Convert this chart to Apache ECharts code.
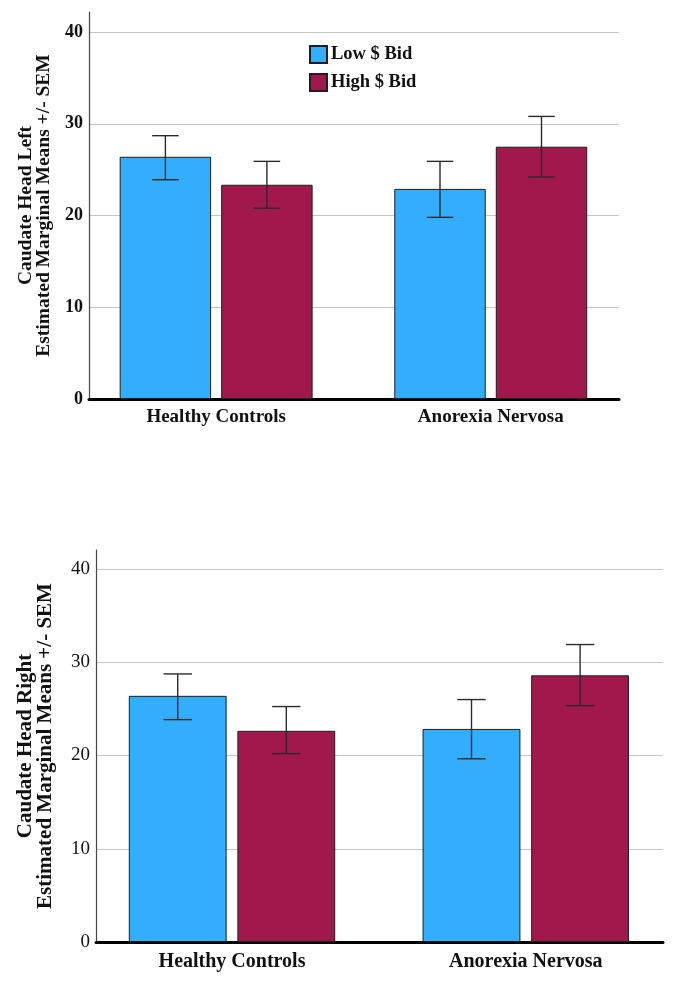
<!DOCTYPE html>
<html>
<head>
<meta charset="utf-8">
<script src="https://cdn.jsdelivr.net/npm/echarts@6/dist/echarts.min.js"></script>
<style>
html,body{margin:0;padding:0;background:#fff;}
#chart{width:683px;height:983px;}
</style>
</head>
<body>
<div id="chart"></div>
<script>
// ---- data ----
const categories = ['Healthy Controls', 'Anorexia Nervosa'];
const seriesNames = ['Low $ Bid', 'High $ Bid'];
const yTicks = [0, 10, 20, 30, 40];

// Caudate Head Left
const leftLow = [26.4, 22.9];
const leftHigh = [23.35, 27.5];
const leftLowErr = [[23.9, 28.7], [19.8, 25.9]];
const leftHighErr = [[20.8, 25.9], [24.2, 30.8]];

// Caudate Head Right
const rightLow = [26.4, 22.85];
const rightHigh = [22.65, 28.6];
const rightLowErr = [[23.85, 28.75], [19.65, 26.0]];
const rightHighErr = [[20.2, 25.25], [25.35, 31.9]];

const axisTitles = [
  'Caudate Head Left\nEstimated Marginal Means +/- SEM',
  'Caudate Head Right\nEstimated Marginal Means +/- SEM'
];

// ---- style ----
const FONT = '"Liberation Serif", "DejaVu Serif", serif';
const BLUE = '#33adfd';
const MAROON = '#a0184c';
const BAR_FRAC = 0.333;   // bar width as fraction of category spacing
const GAP_FRAC = 0.11;    // gap as fraction of bar width
const CAP_FRAC = 0.145;   // half cap width as fraction of bar width

const chart = echarts.init(document.getElementById('chart'), null, {renderer: 'canvas'});

function barData(vals) {
  return vals.map((v, i) => [i, v]);
}
function errData(lowErr, highErr) {
  const out = [];
  lowErr.forEach((e, i) => out.push([i, e[0], e[1], -1]));
  highErr.forEach((e, i) => out.push([i, e[0], e[1], 1]));
  return out;
}

function renderErr(params, api) {
  const x = api.value(0);
  const lo = api.value(1);
  const hi = api.value(2);
  const side = api.value(3);
  const band = api.size([1, 0])[0];
  const barW = band * BAR_FRAC;
  const gap = barW * GAP_FRAC;
  const p0 = api.coord([x, lo]);
  const p1 = api.coord([x, hi]);
  const cx = p0[0] + side * (barW + gap) / 2;
  const cap = barW * CAP_FRAC;
  const style = {stroke: '#2b2b2b', lineWidth: 1.4};
  return {
    type: 'group',
    children: [
      {type: 'line', shape: {x1: cx, y1: p0[1], x2: cx, y2: p1[1]}, style: style},
      {type: 'line', shape: {x1: cx - cap, y1: p0[1], x2: cx + cap, y2: p0[1]}, style: style},
      {type: 'line', shape: {x1: cx - cap, y1: p1[1], x2: cx + cap, y2: p1[1]}, style: style}
    ]
  };
}

function xAxisCfg(gridIndex, fontSize, margin) {
  return {
    type: 'value',
    gridIndex: gridIndex,
    min: -0.463,
    max: 1.467,
    axisLine: {show: true, onZero: false, lineStyle: {color: '#000', width: 3}},
    axisTick: {show: false},
    splitLine: {show: false},
    axisLabel: {
      customValues: [0, 1],
      formatter: v => categories[Math.round(v)] || '',
      fontFamily: FONT, fontWeight: 'bold', fontSize: fontSize, color: '#111',
      margin: margin
    }
  };
}

function yAxisCfg(gridIndex, max, bold, fontSize, titleSize, nameGap) {
  return {
    type: 'value',
    gridIndex: gridIndex,
    min: 0,
    max: max,
    interval: 10,
    name: axisTitles[gridIndex],
    nameLocation: 'middle',
    nameGap: nameGap,
    nameTextStyle: {fontFamily: FONT, fontWeight: 'bold', fontSize: titleSize, color: '#111', lineHeight: titleSize * 0.92},
    axisLine: {show: true, onZero: false, lineStyle: {color: '#444', width: 1.2}},
    axisTick: {show: false},
    splitLine: {show: true, showMaxLine: false, showMinLine: false, lineStyle: {color: '#c4c4c4', width: 1.2}},
    axisLabel: {
      showMaxLabel: false,
      formatter: v => (yTicks.indexOf(v) >= 0 ? String(v) : ''),
      fontFamily: FONT, fontWeight: bold ? 'bold' : 'normal', fontSize: fontSize, color: '#111',
      margin: 6
    }
  };
}

function barSeries(name, vals, color, idx) {
  return {
    name: name,
    type: 'bar',
    xAxisIndex: idx, yAxisIndex: idx,
    data: barData(vals),
    barWidth: (BAR_FRAC * 100) + '%',
    barGap: (GAP_FRAC * 100) + '%',
    itemStyle: {color: color, borderColor: '#1e1e1e', borderWidth: 1},
    emphasis: {disabled: true},
    z: 2
  };
}

function errSeries(idx, lowErr, highErr) {
  return {
    name: 'err' + idx,
    type: 'custom',
    xAxisIndex: idx, yAxisIndex: idx,
    data: errData(lowErr, highErr),
    encode: {x: 0, y: [1, 2]},
    renderItem: renderErr,
    silent: true,
    z: 5
  };
}

const option = {
  backgroundColor: '#fff',
  animation: false,
  grid: [
    {left: 89, right: 64, top: 12, bottom: 584, containLabel: false},
    {left: 96, right: 20, top: 550, bottom: 41, containLabel: false}
  ],
  legend: {
    data: seriesNames,
    orient: 'vertical',
    left: 309,
    top: 45,
    padding: 0,
    itemWidth: 17,
    itemHeight: 17,
    itemGap: 9,
    icon: 'rect',
    selectedMode: false,
    textStyle: {fontFamily: FONT, fontWeight: 'bold', fontSize: 18.5, color: '#111', padding: [0, 0, 0, -1]}
  },
  xAxis: [xAxisCfg(0, 19, 9), xAxisCfg(1, 20, 10)],
  yAxis: [
    yAxisCfg(0, 42.18, true, 18, 19.5, 35),
    yAxisCfg(1, 42.04, false, 19, 21, 41)
  ],
  series: [
    barSeries(seriesNames[0], leftLow, BLUE, 0),
    barSeries(seriesNames[1], leftHigh, MAROON, 0),
    errSeries(0, leftLowErr, leftHighErr),
    barSeries(seriesNames[0], rightLow, BLUE, 1),
    barSeries(seriesNames[1], rightHigh, MAROON, 1),
    errSeries(1, rightLowErr, rightHighErr)
  ]
};
chart.setOption(option);
</script>
</body>
</html>
